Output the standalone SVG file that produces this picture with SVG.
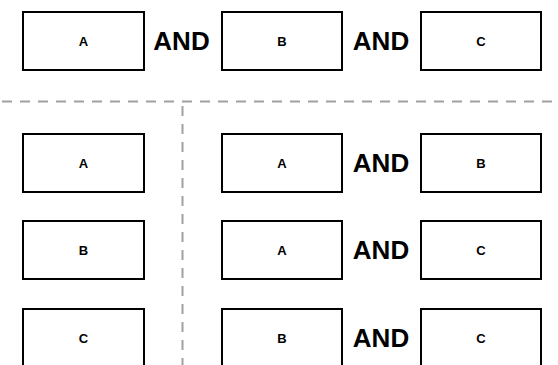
<svg xmlns="http://www.w3.org/2000/svg" width="558" height="365" viewBox="0 0 558 365">
<style>
.box{fill:#fff;stroke:#000;stroke-width:2}
.lbl{font-family:"Liberation Sans",Arial,sans-serif;font-weight:bold;font-size:13px;text-anchor:middle;fill:#000}
.and{font-family:"Liberation Sans",Arial,sans-serif;font-weight:bold;font-size:26px;text-anchor:middle;fill:#000}
.sep{stroke:#a0a0a0;stroke-width:2;stroke-dasharray:10 8;fill:none}
</style>
<rect width="558" height="365" fill="#fff"/>
<g id="separators">
<line class="sep" x1="2" y1="101.5" x2="558" y2="101.5"/>
<line class="sep" x1="182.5" y1="106" x2="182.5" y2="365"/>
</g>
<g id="top-A"><rect class="box" x="23" y="12" width="121" height="58"/><text class="lbl" x="83.5" y="45.5">A</text></g>
<text class="and" x="181.5" y="50">AND</text>
<g id="top-B"><rect class="box" x="222" y="12" width="120" height="58"/><text class="lbl" x="282" y="45.5">B</text></g>
<text class="and" x="381" y="50">AND</text>
<g id="top-C"><rect class="box" x="421" y="12" width="120" height="58"/><text class="lbl" x="481" y="45.5">C</text></g>

<g id="left-A"><rect class="box" x="23" y="134" width="121" height="58"/><text class="lbl" x="83.5" y="167.5">A</text></g>
<g id="left-B"><rect class="box" x="23" y="221" width="121" height="58"/><text class="lbl" x="83.5" y="254.5">B</text></g>
<g id="left-C"><rect class="box" x="23" y="309" width="121" height="58"/><text class="lbl" x="83.5" y="342.5">C</text></g>

<g id="r1-A"><rect class="box" x="222" y="134" width="120" height="58"/><text class="lbl" x="282" y="167.5">A</text></g>
<text class="and" x="381" y="172">AND</text>
<g id="r1-B"><rect class="box" x="421" y="134" width="120" height="58"/><text class="lbl" x="481" y="167.5">B</text></g>

<g id="r2-A"><rect class="box" x="222" y="221" width="120" height="58"/><text class="lbl" x="282" y="254.5">A</text></g>
<text class="and" x="381" y="259">AND</text>
<g id="r2-C"><rect class="box" x="421" y="221" width="120" height="58"/><text class="lbl" x="481" y="254.5">C</text></g>

<g id="r3-B"><rect class="box" x="222" y="309" width="120" height="58"/><text class="lbl" x="282" y="342.5">B</text></g>
<text class="and" x="381" y="347">AND</text>
<g id="r3-C"><rect class="box" x="421" y="309" width="120" height="58"/><text class="lbl" x="481" y="342.5">C</text></g>
</svg>
